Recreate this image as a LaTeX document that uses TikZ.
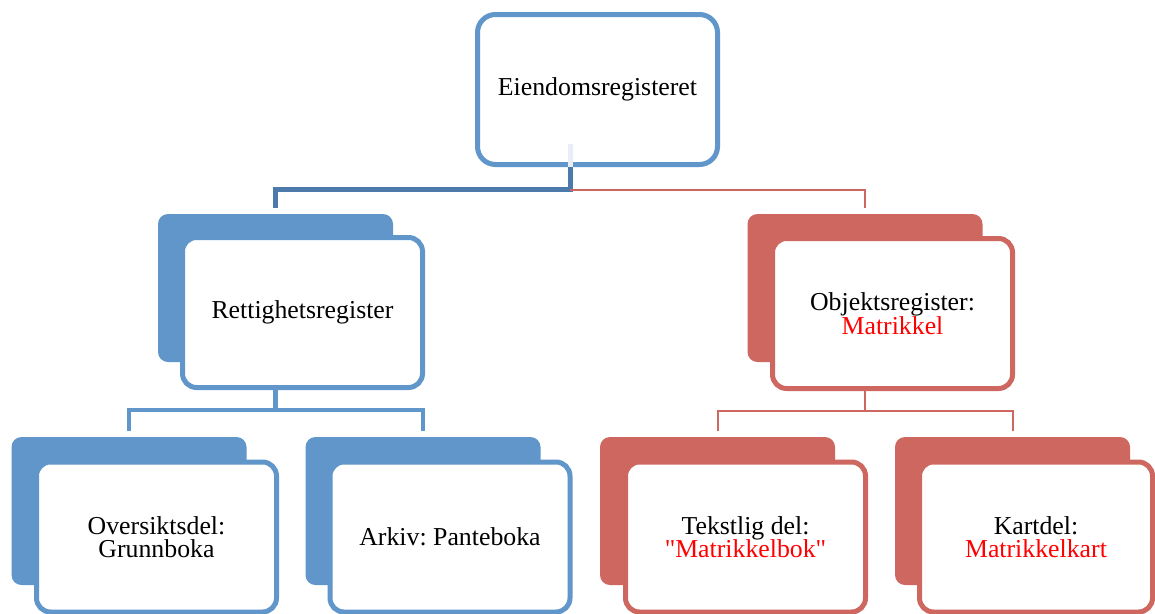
\documentclass[tikz,border=0pt]{standalone}
\usepackage{fontspec}
\setmainfont{Liberation Serif}
\frenchspacing
\definecolor{smartblue}{HTML}{6096C9}
\definecolor{linkblue}{HTML}{4C7BAB}
\definecolor{smartred}{HTML}{CD6760}
\definecolor{faintblue}{HTML}{E9EDF5}
\tikzset{
  frontbox/.style={draw, line width=5pt, rounded corners=14pt, fill=white,
    minimum width=240pt, minimum height=150pt, inner sep=0pt, align=center,
    font=\fontsize{25.8}{23.5}\selectfont},
  backbox/.style={rounded corners=10pt, minimum width=235pt, minimum height=148pt, inner sep=0pt},
  bluelink/.style={draw=smartblue, line width=4.5pt, shorten >=6pt},
  redlink/.style={draw=smartred, line width=2pt, shorten >=6pt}
}
\begin{document}
\begin{tikzpicture}[x=1pt,y=-1pt]
\useasboundingbox[fill=white] (0,0) rectangle (1155,613);

% top
\node[frontbox, draw=smartblue, rounded corners=18pt] (top) at (597.5,89.5) {Eiendomsregisteret};
\draw[faintblue, line width=5pt] ([xshift=-27.5pt]top.south) -- ++(0,-23);
\coordinate (split) at (570,189.5);

% second row
\node[backbox, fill=smartblue] (rettB) at (275.5,288) {};
\node[frontbox, draw=smartblue] (rett) at (302.5,312.5) {Rettighetsregister};
\node[backbox, fill=smartred] (objB) at (865,288) {};
\node[frontbox, draw=smartred] (obj) at (892.5,313.5) {Objektsregister:\\\textcolor{red}{Matrikkel}};

% third row
\node[backbox, fill=smartblue] (overB) at (129,511) {};
\node[frontbox, draw=smartblue] (over) at (156.5,537) {Oversiktsdel:\\Grunnboka};
\node[backbox, fill=smartblue] (arkB) at (423,511) {};
\node[frontbox, draw=smartblue] (ark) at (450,537) {Arkiv: Panteboka};
\node[backbox, fill=smartred] (tekstB) at (717.5,511) {};
\node[frontbox, draw=smartred] (tekst) at (745.5,537) {Tekstlig del:\\\textcolor{red}{\textquotedbl Matrikkelbok\textquotedbl}};
\node[backbox, fill=smartred] (kartB) at (1012.5,511) {};
\node[frontbox, draw=smartred, minimum width=233pt] (kart) at (1036,537) {Kartdel:\\\textcolor{red}{Matrikkelkart}};

% links
\draw[bluelink, draw=linkblue, line width=5pt] ([xshift=-27.5pt]top.south) -- (split) -| (rettB.north);
\draw[redlink] (split) -| (objB.north);
\draw[bluelink] (rett.south -| rettB.south) -- ++(0,20) -| (overB.north);
\draw[bluelink] (rett.south -| rettB.south) -- ++(0,20) -| (arkB.north);
\draw[redlink] (obj.south -| objB.south) -- ++(0,20) -| (tekstB.north);
\draw[redlink] (obj.south -| objB.south) -- ++(0,20) -| (kartB.north);
\end{tikzpicture}
\end{document}
